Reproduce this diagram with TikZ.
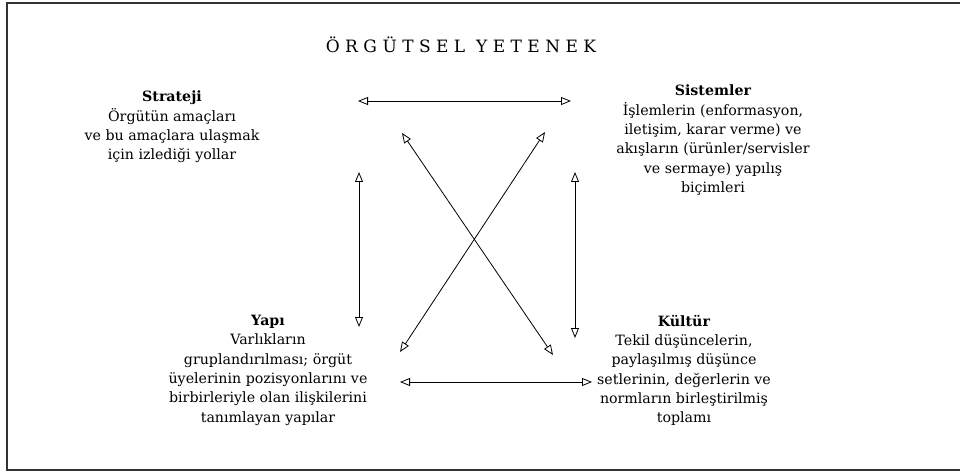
\documentclass[tikz,border=0pt]{standalone}
\usepackage{fontspec}
\setmainfont{DejaVu Serif}
\newfontfamily\titlefont[LetterSpace=32]{DejaVu Serif}
\usetikzlibrary{arrows.meta}
\begin{document}
\begin{tikzpicture}[x=1pt,y=-1pt,
  txt/.style={align=center,inner sep=0pt,anchor=north,font=\fontsize{14.2}{19.3}\selectfont},
  link/.style={{Triangle[open,length=10pt,width=8pt]}-{Triangle[open,length=10pt,width=8pt]},line width=0.8pt},
  frame/.style={line width=1.2pt,draw=black!80}]
\useasboundingbox (0,0) rectangle (961,473);
\draw[frame] (960,3) -- (7,3) -- (7,470) -- (960,470);
\node[font=\titlefont\fontsize{17}{19}\selectfont] (title) at (461,45) {ÖRGÜTSEL YETENEK};
\node[txt] (strateji) at (172,91) {\textbf{Strateji}\\Örgütün amaçları\\ve bu amaçlara ulaşmak\\için izlediği yollar};
\node[txt] (sistemler) at (713,85) {\textbf{Sistemler}\\İşlemlerin (enformasyon,\\iletişim, karar verme) ve\\akışların (ürünler/servisler\\ve sermaye) yapılış\\biçimleri};
\node[txt] (yapi) at (268,315) {\textbf{Yapı}\\Varlıkların\\gruplandırılması; örgüt\\üyelerinin pozisyonlarını ve\\birbirleriyle olan ilişkilerini\\tanımlayan yapılar};
\node[txt] (kultur) at (684,315) {\textbf{Kültür}\\Tekil düşüncelerin,\\paylaşılmış düşünce\\setlerinin, değerlerin ve\\normların birleştirilmiş\\toplamı};
\coordinate (t1) at (358,101); \coordinate (t2) at (571,101);
\coordinate (b1) at (400,382); \coordinate (b2) at (592,382);
\coordinate (l1) at (359,172); \coordinate (l2) at (359,327);
\coordinate (r1) at (575,172); \coordinate (r2) at (575,338);
\coordinate (d1a) at (402,133); \coordinate (d1b) at (553,355);
\coordinate (d2a) at (545,132); \coordinate (d2b) at (400,352);
\draw[link] (t1) -- (t2);
\draw[link] (b1) -- (b2);
\draw[link] (l1) -- (l2);
\draw[link] (r1) -- (r2);
\draw[link] (d1a) -- (d1b);
\draw[link] (d2a) -- (d2b);
\end{tikzpicture}
\end{document}
